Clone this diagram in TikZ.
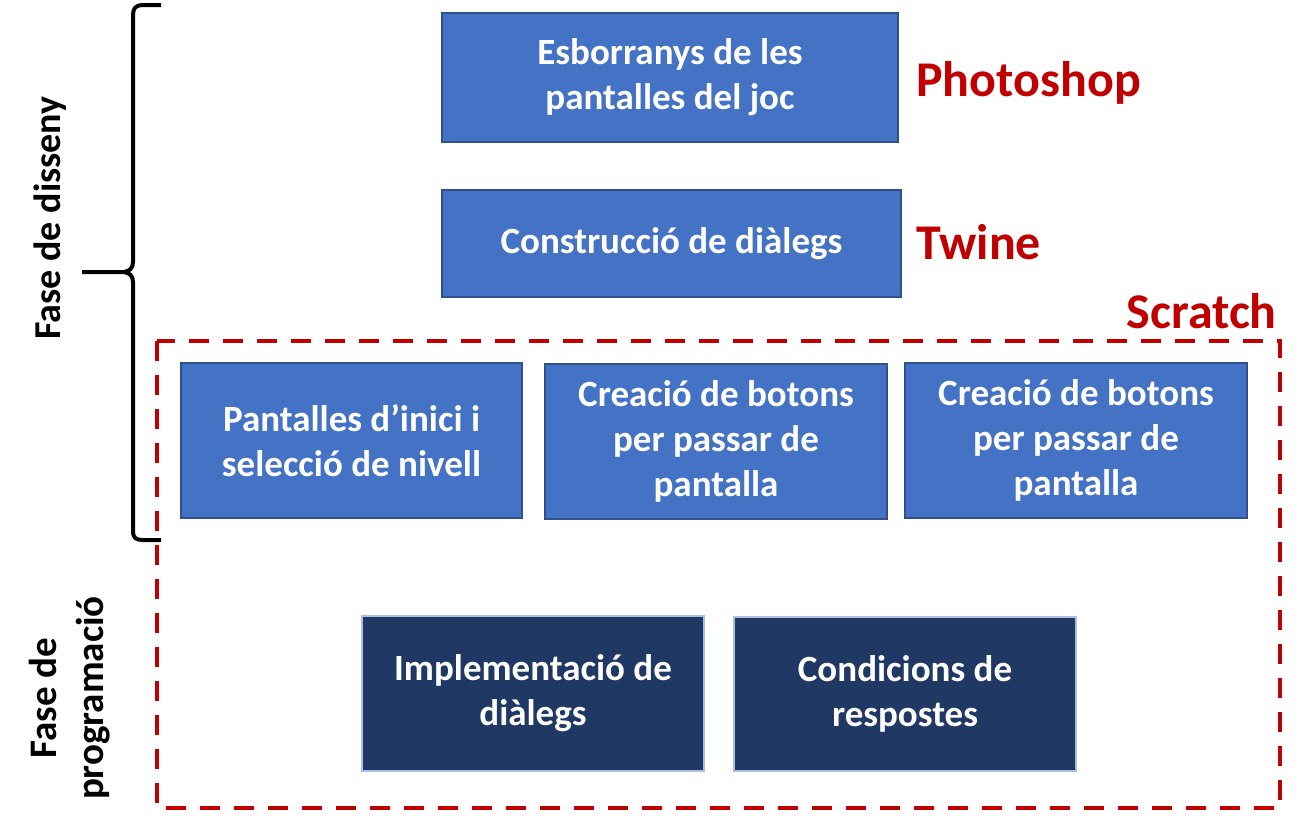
\documentclass[tikz,border=0pt]{standalone}
\usepackage{fontspec}
\setmainfont{Carlito}
\definecolor{boxblue}{HTML}{4472C4}
\definecolor{boxedge}{HTML}{2F528F}
\definecolor{navy}{HTML}{203864}
\definecolor{navyedge}{HTML}{A9BEE0}
\definecolor{tred}{HTML}{C00000}
\tikzset{
  bluebox/.style={draw=boxedge, line width=1.5pt, fill=boxblue, text=white, font=\fontsize{37}{45}\selectfont\bfseries, align=center, inner sep=0pt},
  navybox/.style={draw=navyedge, line width=2pt, fill=navy, text=white, font=\fontsize{37}{45}\selectfont\bfseries, align=center, inner sep=0pt},
  toollabel/.style={text=tred, font=\fontsize{50}{56}\selectfont\bfseries, inner sep=0pt},
  phase/.style={text=black, font=\fontsize{38}{47}\selectfont\bfseries, align=center, inner sep=0pt, rotate=90}
}
\begin{document}
\begin{tikzpicture}[x=1pt,y=-1pt]
\useasboundingbox (0,0) rectangle (1308,835);
% dashed frame
\draw[tred, line width=3.5pt, dash pattern=on 20pt off 14pt] (157,341) rectangle (1280,808);
% boxes
\node[bluebox, minimum width=456pt, minimum height=129pt] (b1) at (670,77.5) {Esborranys de les\\pantalles del joc};
\node[bluebox, minimum width=459pt, minimum height=107pt] (b2) at (671.5,243.5) {Construcció de diàlegs};
\node[bluebox, minimum width=341pt, minimum height=155pt] (b3) at (351.5,440.5) {Pantalles d’inici i\\selecció de nivell};
\node[bluebox, minimum width=342pt, minimum height=155pt] (b4) at (716,441.5) {Creació de botons\\per passar de\\pantalla};
\node[bluebox, minimum width=342pt, minimum height=155pt] (b5) at (1076,440.5) {Creació de botons\\per passar de\\pantalla};
\node[navybox, minimum width=342pt, minimum height=155pt] (b6) at (533,693.5) {Implementació de\\diàlegs};
\node[navybox, minimum width=342pt, minimum height=154pt] (b7) at (905,694) {Condicions de\\respostes};
% tool labels
\node[toollabel, anchor=west] (ps) at (916,83) {Photoshop};
\node[toollabel, anchor=west] (tw) at (916,242) {Twine};
\node[toollabel, anchor=east] (sc) at (1277,311) {Scratch};
% brace
\draw[black, line width=4pt, line join=round]
  (161,5) -- (143,5) .. controls (136,5) and (133,8) .. (133,15)
  -- (133,262) .. controls (133,268) and (130,271) .. (124,272)
  -- (82,272)
  (124,272) .. controls (130,273) and (133,276) .. (133,282)
  -- (133,531) .. controls (133,538) and (136,540) .. (143,540) -- (161,540);
% phase labels
\node[phase] (fd) at (50,218) {Fase de disseny};
\node[phase, font=\fontsize{39}{47}\selectfont\bfseries] (fp) at (70,698) {Fase de\\programació};
\end{tikzpicture}
\end{document}
